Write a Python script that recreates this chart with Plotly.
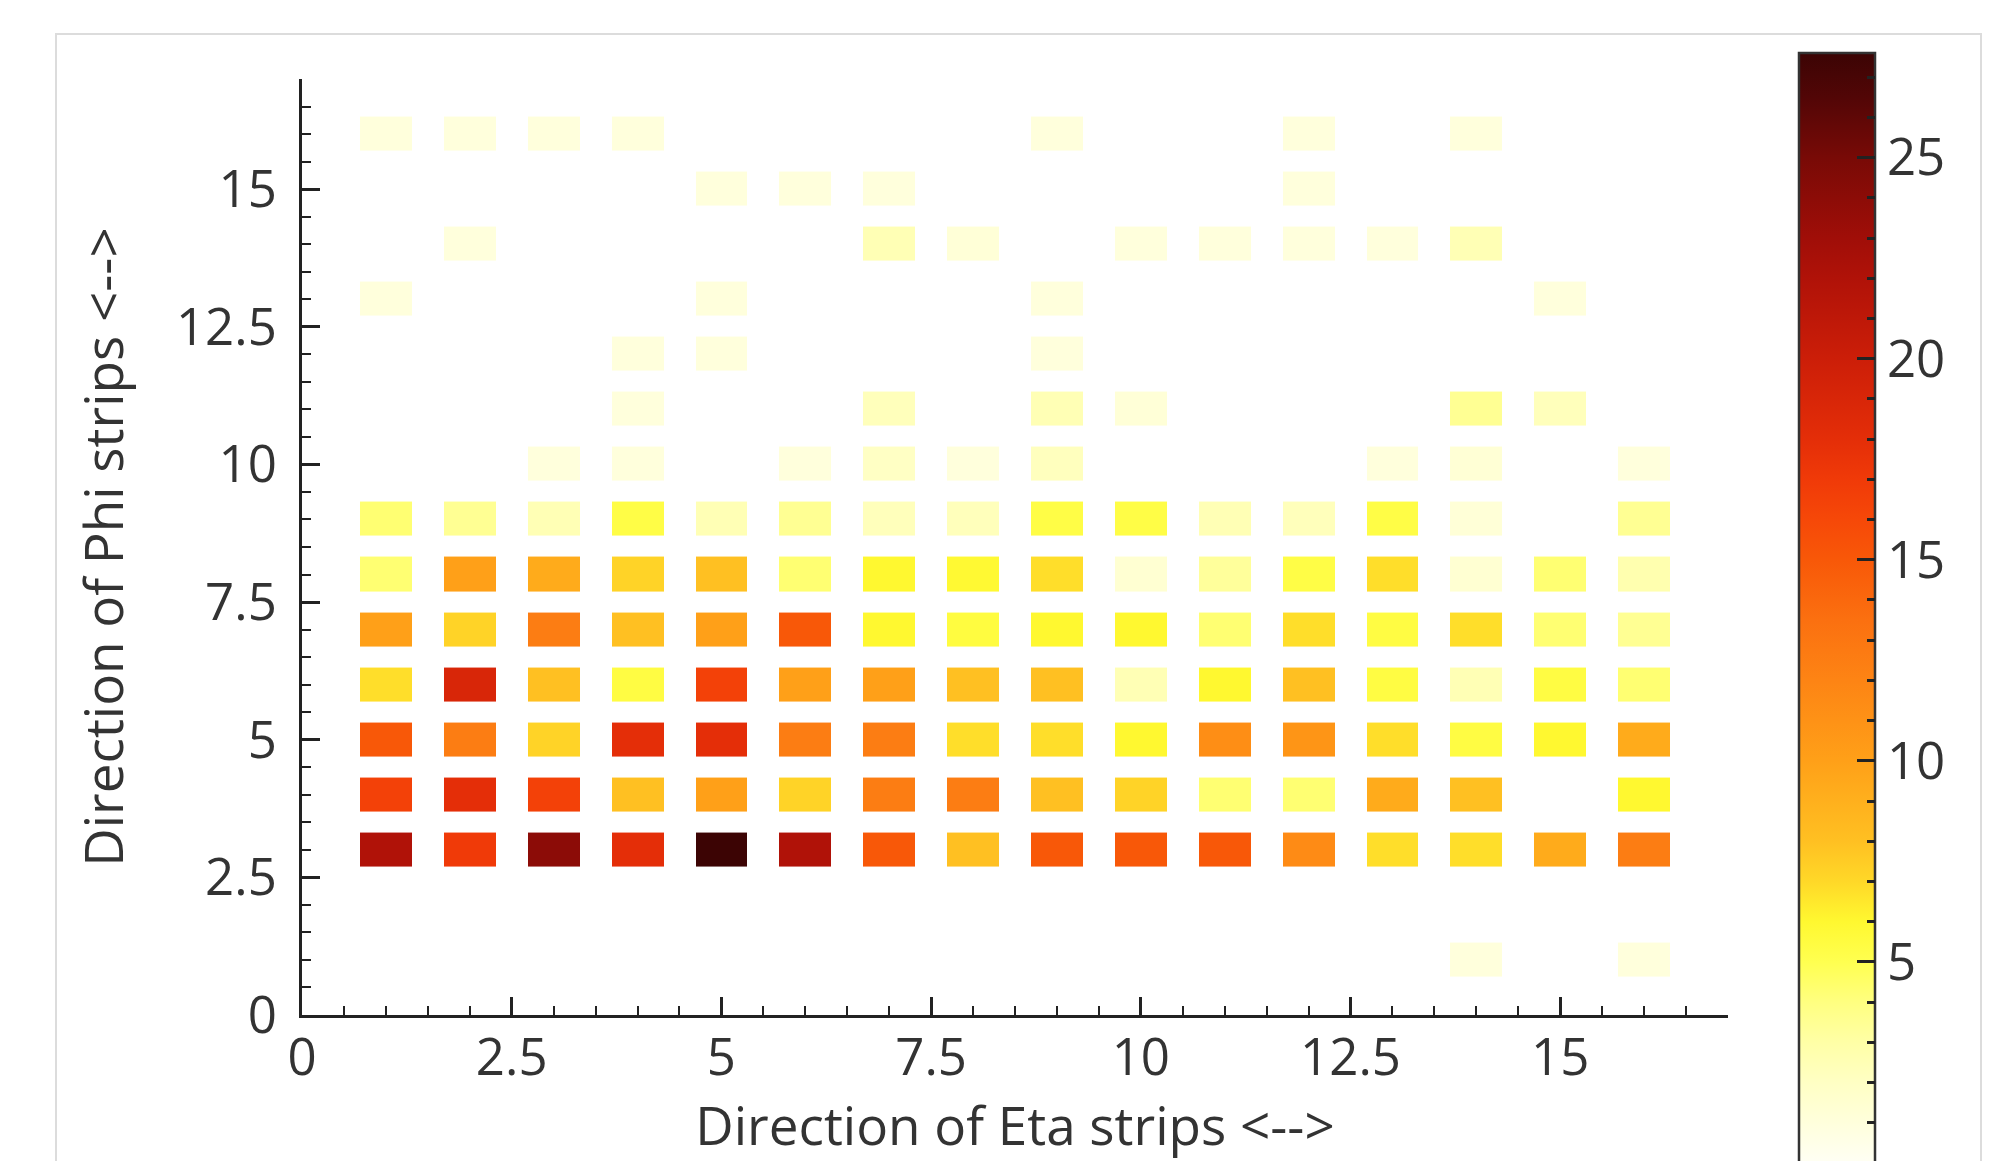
import plotly.graph_objects as go

# ---- data -------------------------------------------------------------
eta_strips = list(range(1, 17))   # x categories (Eta strip index)
phi_strips = list(range(1, 17))   # y categories (Phi strip index)
N = None

# one row of hit counts per Phi strip (index = Eta strip 1..16)
phi_01 = [N, N, N, N, N, N, N, N, N, N, N, N, N, 1.0, N, 1.0]
phi_02 = [N] * 16
phi_03 = [22, 17, 24, 18, 27.6, 22, 15, 8, 15, 15, 15, 11.5, 6.8, 6.8, 9.3, 12.5]
phi_04 = [16.5, 18, 16.5, 8, 10, 7.2, 12.5, 12.5, 8, 7.2, 4.3, 4.3, 9.3, 8, N, 6]
phi_05 = [15, 12.5, 7.2, 18, 18, 12.5, 12.5, 6.8, 6.8, 6, 11.3, 10.8, 6.8, 5.4, 6, 9.3]
phi_06 = [6.8, 19, 8, 5.4, 16.5, 10, 10, 8, 8, 2.5, 6, 8, 5.4, 2.5, 5.4, 4.3]
phi_07 = [10, 7.2, 12.5, 8, 10, 15, 6, 5.5, 6, 6, 4.3, 6.8, 5.4, 6.8, 4.3, 3.5]
phi_08 = [4.3, 10, 9.3, 7.2, 8, 4.3, 6, 5.9, 6.8, 1.4, 3.3, 5.3, 6.8, 1.4, 4.3, 2.7]
phi_09 = [4.3, 3.5, 2.5, 5.3, 2.5, 3.5, 2.3, 2.3, 5.3, 5.3, 2.5, 2.3, 5.3, 1.2, N, 3.5]
phi_10 = [N, N, 1.0, 1.0, N, 1.0, 2.0, 1.0, 2.2, N, N, N, 1.0, 1.3, N, 1.0]
phi_11 = [N, N, N, 1.0, N, N, 2.3, N, 2.5, 1.2, N, N, N, 3.5, 2.3, N]
phi_12 = [N, N, N, 1.0, 1.0, N, N, N, 1.0, N, N, N, N, N, N, N]
phi_13 = [1.0, N, N, N, 1.0, N, N, N, 1.0, N, N, N, N, N, 1.0, N]
phi_14 = [N, 1.0, N, N, N, N, 2.5, 1.2, N, 1.0, 1.0, 1.0, 1.0, 2.5, N, N]
phi_15 = [N, N, N, N, 1.0, 1.0, 1.0, N, N, N, N, 1.0, N, N, N, N]
phi_16 = [1.0, 1.0, 1.0, 1.0, N, N, N, N, 1.0, N, N, 1.0, N, 1.0, N, N]

z_max = 27.6
colorbar_major = [5, 10, 15, 20, 25]
colorbar_minor = list(range(1, 28))

# colour stops (value, colour)
cs_values = [0, 1, 2, 3, 4, 5, 6, 7, 8, 10, 12, 13.5, 15, 16, 17, 18, 20, 22, 23, 25, 26.5, 27.6]
cs_colors = ["#fffff4", "#ffffdc", "#ffffc4", "#ffffa6", "#ffff80", "#ffff50",
             "#fff830", "#ffd828", "#ffc022", "#ffa018", "#fd8414", "#fb7010",
             "#f85808", "#f64808", "#f03a08", "#e42e08", "#cc1e08", "#b01208",
             "#a00e08", "#780a06", "#520606", "#3c0404"]

# ---- figure -----------------------------------------------------------
z = [phi_01, phi_02, phi_03, phi_04, phi_05, phi_06, phi_07, phi_08,
     phi_09, phi_10, phi_11, phi_12, phi_13, phi_14, phi_15, phi_16]

colorscale = [[v / z_max, c] for v, c in zip(cs_values, cs_colors)]

FONT = "Open Sans, Noto Sans, sans-serif"
TXT = "#333333"
AX = "#222222"
TICK_SIZE = 51
TITLE_SIZE = 53

W, H = 1996, 1161
ML, MR, MT, MB = 302, 268, 79, 146
plot_w = W - ML - MR
plot_h = H - MT - MB
px_per_unit = 40.2
cb_top_px = 53
cb_left_px = 1799
cb_thick = 76

cb_x = (cb_left_px - ML) / plot_w
cb_y = (H - MB - cb_top_px) / plot_h
cb_len = z_max * px_per_unit

fig = go.Figure()
fig.add_trace(go.Heatmap(
    x=eta_strips, y=phi_strips, z=z,
    zmin=0, zmax=z_max, colorscale=colorscale,
    xgap=32, ygap=21, hoverongaps=False,
    colorbar=dict(
        x=cb_x, xanchor="left", xpad=0,
        y=cb_y, yanchor="top", ypad=0,
        lenmode="pixels", len=cb_len,
        thicknessmode="pixels", thickness=cb_thick,
        outlinecolor="#333333", outlinewidth=2.5,
        tickmode="array", tickvals=colorbar_major,
        ticktext=[str(v) for v in colorbar_major],
        ticks="inside", ticklen=19, tickwidth=2.5, tickcolor=AX,
        tickfont=dict(family=FONT, size=TICK_SIZE, color=TXT),
    ),
))
# transparent twin colour bar that only carries the minor ticks
fig.add_trace(go.Heatmap(
    x=eta_strips, y=phi_strips, z=z,
    zmin=0, zmax=z_max,
    colorscale=[[0, "rgba(0,0,0,0)"], [1, "rgba(0,0,0,0)"]],
    xgap=32, ygap=21, hoverinfo="skip",
    colorbar=dict(
        x=cb_x, xanchor="left", xpad=0,
        y=cb_y, yanchor="top", ypad=0,
        lenmode="pixels", len=cb_len,
        thicknessmode="pixels", thickness=cb_thick,
        outlinewidth=0,
        tickmode="array", tickvals=colorbar_minor,
        ticktext=["" for _ in colorbar_minor],
        ticks="inside", ticklen=8, tickwidth=2.5, tickcolor=AX,
        tickfont=dict(family=FONT, size=TICK_SIZE, color=TXT),
    ),
))

axis_common = dict(
    range=[0, 17], tick0=0, dtick=2.5, automargin=False,
    showgrid=False, zeroline=False,
    showline=True, linecolor=AX, linewidth=3,
    ticks="inside", ticklen=18, tickwidth=2.5, tickcolor=AX,
    minor=dict(dtick=0.5, ticks="inside", ticklen=9, tickwidth=2, tickcolor=AX, showgrid=False),
    tickfont=dict(family=FONT, size=TICK_SIZE, color=TXT),
)

fig.update_layout(
    width=W, height=H,
    margin=dict(l=ML, r=MR, t=MT, b=MB, autoexpand=False),
    paper_bgcolor="white", plot_bgcolor="white",
    xaxis=dict(**axis_common, ticklabelstandoff=-4,
               title=dict(text="Direction of Eta strips <-->", standoff=22,
                          font=dict(family=FONT, size=TITLE_SIZE, color=TXT))),
    yaxis=dict(**axis_common, ticklabelstandoff=12,
               title=dict(text="Direction of Phi strips <-->", standoff=36,
                          font=dict(family=FONT, size=TITLE_SIZE, color=TXT))),
    shapes=[dict(type="rect", xref="paper", yref="paper", layer="below",
                 x0=(56 - ML) / plot_w, x1=(1981 - ML) / plot_w,
                 y0=-0.5, y1=(H - MB - 34) / plot_h,
                 line=dict(color="#dcdcdc", width=2), fillcolor="rgba(0,0,0,0)")],
)

fig.write_html("out.html")
